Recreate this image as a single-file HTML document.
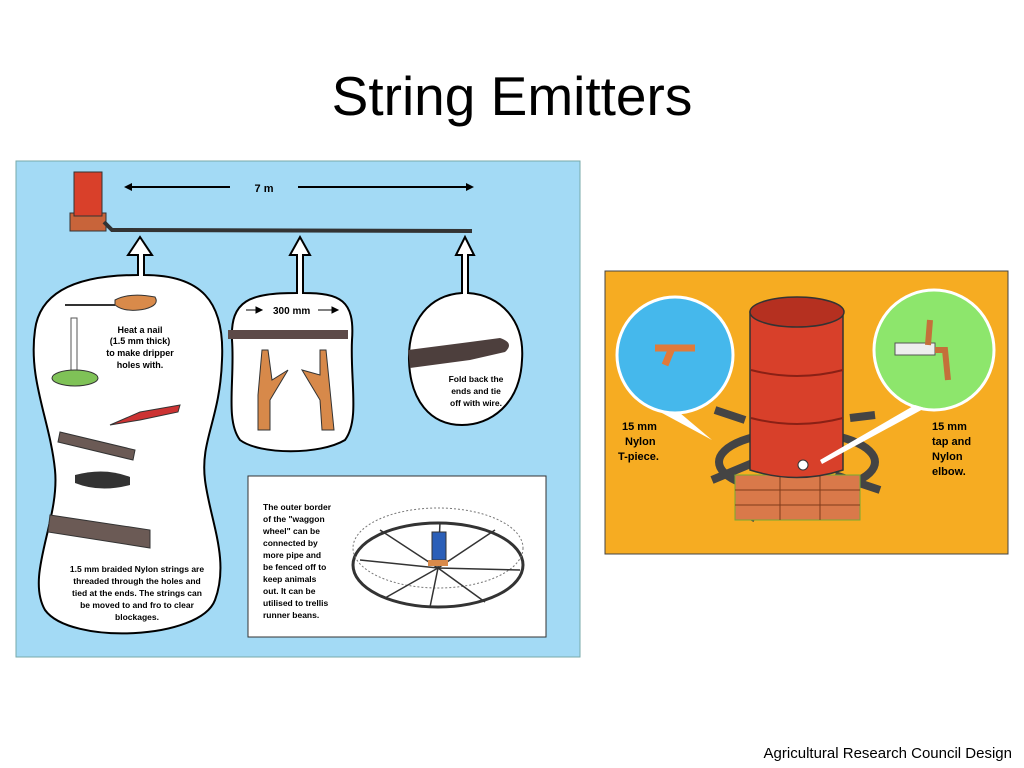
<!DOCTYPE html>
<html><head><meta charset="utf-8"><style>
body{margin:0;background:#fff;width:1024px;height:768px;overflow:hidden;font-family:"Liberation Sans",sans-serif}
svg{position:absolute;left:0;top:0}
</style></head><body>
<svg width="1024" height="768" viewBox="0 0 1024 768" xmlns="http://www.w3.org/2000/svg" font-family="Liberation Sans, sans-serif">
<text x="512" y="115" text-anchor="middle" font-size="55" fill="#000">String Emitters</text>
<text x="1012" y="758" text-anchor="end" font-size="15" fill="#000">Agricultural Research Council Design</text>

<!-- blue panel -->
<rect x="16" y="161" width="564" height="496" fill="#a3daf5" stroke="#7aa" stroke-width="1"/>
<rect x="70" y="213" width="36" height="18" fill="#c8643a" stroke="#333"/>
<rect x="74" y="172" width="28" height="44" fill="#d9402a" stroke="#333"/>
<path d="M104 222 L112 230 L472 231" stroke="#333" stroke-width="4" fill="none"/>
<line x1="128" y1="187" x2="230" y2="187" stroke="#000" stroke-width="2"/>
<line x1="298" y1="187" x2="470" y2="187" stroke="#000" stroke-width="2"/>
<path d="M124 187 l8 -4 v8z M474 187 l-8 -4 v8z" fill="#000"/>
<text x="264" y="192" text-anchor="middle" font-size="11" font-weight="bold">7 m</text>

<path d="M138 255 L128 255 L140 237 L152 255 L144 255 L144 275 C200 275 225 300 222 360 C220 420 200 440 205 480 C210 520 230 560 215 600 C200 640 70 645 45 610 C25 575 60 520 55 470 C50 420 28 380 35 330 C40 290 80 275 138 275Z" fill="#fff" stroke="#000" stroke-width="2"/>
<path d="M297 255 L290 255 L300 237 L310 255 L303 255 L303 293 C340 293 355 300 352 340 C350 380 360 420 345 440 C320 455 260 455 240 440 C225 420 235 380 232 340 C230 300 250 293 297 293Z" fill="#fff" stroke="#000" stroke-width="2"/>
<path d="M462 255 L456 255 L465 237 L474 255 L468 255 L468 293 C500 295 525 320 522 360 C520 405 490 425 462 425 C430 425 410 400 409 360 C408 320 430 295 462 293Z" fill="#fff" stroke="#000" stroke-width="2"/>

<rect x="71" y="318" width="6" height="55" fill="#fff" stroke="#555"/>
<ellipse cx="75" cy="378" rx="23" ry="8" fill="#7fc257" stroke="#333"/>
<line x1="65" y1="305" x2="115" y2="305" stroke="#333" stroke-width="2"/>
<path d="M115 300 q15 -8 40 -3 q5 8 -10 12 q-20 4 -30 -4z" fill="#d98a4a" stroke="#333"/>
<text x="140" y="333" text-anchor="middle" font-size="9" font-weight="bold">Heat a nail</text>
<text x="140" y="344" text-anchor="middle" font-size="9" font-weight="bold">(1.5 mm thick)</text>
<text x="140" y="356" text-anchor="middle" font-size="9" font-weight="bold">to make dripper</text>
<text x="140" y="368" text-anchor="middle" font-size="9" font-weight="bold">holes with.</text>
<path d="M60 432 L135 450 L133 460 L58 442z" fill="#6b5a55" stroke="#333"/>
<path d="M110 425 L140 412 L180 405 L178 412 L140 420z" fill="#c33" stroke="#333"/>
<path d="M75 475 q30 -8 55 2 l0 8 q-30 8 -55 -2z" fill="#333"/>
<path d="M50 515 L150 530 L150 548 L48 532z" fill="#6b5a55" stroke="#333"/>
<text x="137" y="572" text-anchor="middle" font-size="8.5" font-weight="bold">1.5 mm  braided Nylon strings are</text>
<text x="137" y="584" text-anchor="middle" font-size="8.5" font-weight="bold">threaded through the holes and</text>
<text x="137" y="596" text-anchor="middle" font-size="8.5" font-weight="bold">tied at the ends. The strings can</text>
<text x="137" y="608" text-anchor="middle" font-size="8.5" font-weight="bold">be moved to and fro to clear</text>
<text x="137" y="620" text-anchor="middle" font-size="8.5" font-weight="bold">blockages.</text>

<text x="273" y="314" font-size="10" font-weight="bold">300 mm</text>
<path d="M246 310 l14 0 M262 310 l-6 -3 v6z M318 310 l14 0 M338 310 l-6 -3 v6z" stroke="#000" fill="#000"/>
<rect x="228" y="330" width="120" height="9" fill="#5d4a48"/>
<path d="M262 350 l6 0 l4 30 l16 -10 l-18 30 l0 30 l-12 0 l0 -35 z" fill="#d7894a" stroke="#333"/>
<path d="M320 350 l6 0 l4 40 l4 40 l-12 0 l-2 -30 l-18 -30 l18 5z" fill="#d7894a" stroke="#333"/>

<path d="M408 350 L470 342 L500 338 q15 5 5 14 L470 360 L410 368z" fill="#4d3f3d"/>
<text x="476" y="382" text-anchor="middle" font-size="8.5" font-weight="bold">Fold back the</text>
<text x="476" y="394" text-anchor="middle" font-size="8.5" font-weight="bold">ends and tie</text>
<text x="476" y="406" text-anchor="middle" font-size="8.5" font-weight="bold">off with wire.</text>

<rect x="248" y="476" width="298" height="161" fill="#fff" stroke="#333"/>
<text font-size="8.5" font-weight="bold" fill="#000">
<tspan x="263" y="510">The outer border</tspan>
<tspan x="263" y="522">of the "waggon</tspan>
<tspan x="263" y="534">wheel" can be</tspan>
<tspan x="263" y="546">connected by</tspan>
<tspan x="263" y="558">more pipe and</tspan>
<tspan x="263" y="570">be fenced off to</tspan>
<tspan x="263" y="582">keep animals</tspan>
<tspan x="263" y="594">out. It can be</tspan>
<tspan x="263" y="606">utilised to trellis</tspan>
<tspan x="263" y="618">runner beans.</tspan>
</text>
<ellipse cx="438" cy="565" rx="85" ry="42" fill="none" stroke="#333" stroke-width="3"/>
<ellipse cx="438" cy="548" rx="85" ry="40" fill="none" stroke="#777" stroke-width="1" stroke-dasharray="2 2"/>
<path d="M438 568 L360 560 M438 568 L385 598 M438 568 L430 607 M438 568 L485 602 M438 568 L520 570 M438 568 L495 530 M438 568 L440 522 M438 568 L380 530" stroke="#333" stroke-width="1.5"/>
<rect x="432" y="532" width="14" height="28" fill="#2b5fb8" stroke="#333"/>
<rect x="428" y="560" width="20" height="6" fill="#d98a4a"/>

<rect x="605" y="271" width="403" height="283" fill="#f6ac22" stroke="#444"/>
<ellipse cx="797" cy="462" rx="78" ry="30" fill="none" stroke="#444" stroke-width="8"/>
<path d="M712 480 L760 460 M770 485 L750 520 M835 475 L880 490 M715 410 L745 420 M850 418 L875 415" stroke="#444" stroke-width="8"/>
<rect x="735" y="475" width="125" height="45" fill="#d9794a" stroke="#7a3"/>
<path d="M735 490 H860 M735 505 H860 M780 475 V520 M820 475 V520" stroke="#803a1a"/>
<path d="M750 312 L750 470 Q797 485 843 470 L843 312z" fill="#d8402a" stroke="#333" stroke-width="1.5"/>
<ellipse cx="797" cy="312" rx="47" ry="15" fill="#b53020" stroke="#333" stroke-width="1.5"/>
<path d="M751 370 Q797 382 843 370 M751 418 Q797 430 843 418" stroke="#8a2015" stroke-width="2" fill="none"/>
<circle cx="803" cy="465" r="5" fill="#fff" stroke="#333"/>
<circle cx="675" cy="355" r="58" fill="#45b8ec" stroke="#fff" stroke-width="3"/>
<path d="M662 413 L712 440 L680 413z" fill="#fff"/>
<path d="M655 348 L695 348 M672 348 L665 365" stroke="#e07a3a" stroke-width="7"/>
<circle cx="934" cy="350" r="60" fill="#8de66c" stroke="#fff" stroke-width="3"/>
<path d="M915 405 L820 460 L822 464 L925 408z" fill="#fff"/>
<rect x="895" y="343" width="40" height="12" fill="#eee" stroke="#555"/>
<path d="M935 350 L945 350 L948 380 M930 320 L928 345" stroke="#c4703a" stroke-width="6" fill="none"/>
<text font-size="11" font-weight="bold" fill="#000">
<tspan x="622" y="430">15 mm</tspan><tspan x="625" y="445">Nylon</tspan><tspan x="618" y="460">T-piece.</tspan>
<tspan x="932" y="430">15 mm</tspan><tspan x="932" y="445">tap and</tspan><tspan x="932" y="460">Nylon</tspan><tspan x="932" y="475">elbow.</tspan>
</text>
</svg>
</body></html>
